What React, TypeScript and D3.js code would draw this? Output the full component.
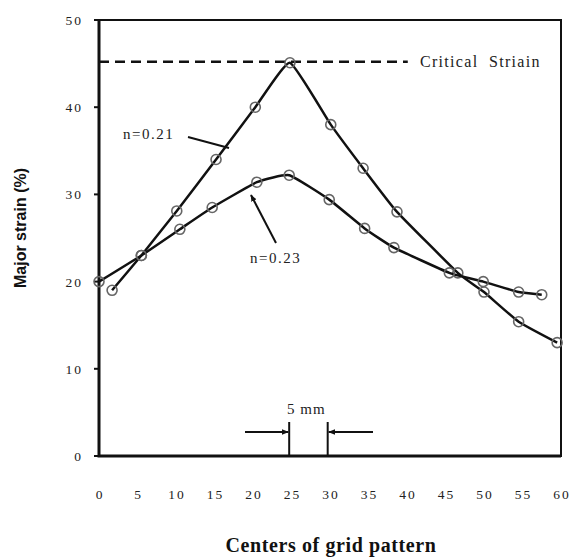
import React, { useEffect, useRef } from "react";
import * as d3 from "d3";

// grid centre positions (mm) and major strain (%) for both n values
const xN021 = [1.7, 5.5, 10.1, 15.2, 20.3, 24.8, 30.1, 34.3, 38.7, 46.6, 50, 54.5, 59.5];
const yN021 = [19.0, 23.0, 28.1, 34.0, 40.0, 45.1, 38.0, 33.0, 28.0, 21.0, 18.8, 15.4, 13.0];
const xN023 = [0, 5.5, 10.5, 14.7, 20.5, 24.7, 29.9, 34.5, 38.3, 45.5, 49.9, 54.5, 57.5];
const yN023 = [20.0, 23.0, 26.0, 28.5, 31.4, 32.2, 29.4, 26.1, 23.9, 21.0, 20.0, 18.8, 18.5];

const xTicks = [0, 5, 10, 15, 20, 25, 30, 35, 40, 45, 50, 55, 60];
const yTicks = [0, 10, 20, 30, 40, 50];
const criticalStrain = 45.2;
const criticalEnd = 40.1;
const gaugeMarks = [24.7, 29.7];

export default function App() {
  const svgRef = useRef<SVGSVGElement>(null);

  useEffect(() => {
    const width = 574;
    const height = 559;
    const svg = d3.select(svgRef.current);
    svg.selectAll("*").remove();
    svg.attr("width", width).attr("height", height);

    const x = d3.scaleLinear().domain([0, 60]).range([99, 561]);
    const y = d3.scaleLinear().domain([0, 50]).range([456, 20]);
    const serif = "'Liberation Serif', 'DejaVu Serif', serif";

    const defs = svg.append("defs");
    defs
      .append("marker")
      .attr("id", "arr")
      .attr("viewBox", "0 0 10 10")
      .attr("refX", 9)
      .attr("refY", 5)
      .attr("markerWidth", 3.5)
      .attr("markerHeight", 3.5)
      .attr("orient", "auto")
      .append("path")
      .attr("d", "M0,1 L10,5 L0,9 Z")
      .attr("fill", "#111");

    // frame
    svg
      .append("rect")
      .attr("x", x(0))
      .attr("y", y(50))
      .attr("width", x(60) - x(0))
      .attr("height", y(0) - y(50))
      .attr("fill", "none")
      .attr("stroke", "#111")
      .attr("stroke-width", 2);
    svg
      .append("path")
      .attr("d", `M${x(0)},${y(50)}V${y(0)}H${x(60)}`)
      .attr("fill", "none")
      .attr("stroke", "#111")
      .attr("stroke-width", 3);

    // y ticks
    const yAxis = svg.append("g");
    yTicks.forEach((t) => {
      yAxis
        .append("line")
        .attr("x1", x(0) - 5)
        .attr("x2", x(0))
        .attr("y1", y(t))
        .attr("y2", y(t))
        .attr("stroke", "#111")
        .attr("stroke-width", 2);
      yAxis
        .append("text")
        .attr("x", 83)
        .attr("y", y(t) + 5)
        .attr("text-anchor", "end")
        .style("font", `13.5px ${serif}`)
        .style("letter-spacing", "2px")
        .attr("fill", "#222")
        .text(t);
    });

    // x tick labels
    xTicks.forEach((t) => {
      svg
        .append("text")
        .attr("x", x(t) + 1)
        .attr("y", 499)
        .attr("text-anchor", "middle")
        .style("font", `13.5px ${serif}`)
        .style("letter-spacing", "2px")
        .attr("fill", "#222")
        .text(t);
    });

    // critical strain
    svg
      .append("line")
      .attr("x1", x(0))
      .attr("x2", x(criticalEnd))
      .attr("y1", y(criticalStrain))
      .attr("y2", y(criticalStrain))
      .attr("stroke", "#111")
      .attr("stroke-width", 2.5)
      .attr("stroke-dasharray", "10,6");
    svg
      .append("text")
      .attr("x", 420)
      .attr("y", y(criticalStrain) + 5)
      .style("font", `16px ${serif}`)
      .style("letter-spacing", "1.3px")
      .style("white-space", "pre")
      .attr("fill", "#222")
      .text("Critical  Striain");

    const line = d3
      .line<[number, number]>()
      .x((d) => x(d[0]))
      .y((d) => y(d[1]))
      .curve(d3.curveCardinal.tension(0.6));

    [
      [xN021, yN021],
      [xN023, yN023],
    ].forEach(([xs, ys]) => {
      const pts = xs.map((v, i) => [v, ys[i]] as [number, number]);
      svg
        .append("path")
        .attr("d", line(pts))
        .attr("fill", "none")
        .attr("stroke", "#111")
        .attr("stroke-width", 2.5);
      svg
        .append("g")
        .selectAll("circle")
        .data(pts)
        .join("circle")
        .attr("cx", (d) => x(d[0]))
        .attr("cy", (d) => y(d[1]))
        .attr("r", 5)
        .attr("fill", "none")
        .attr("stroke", "#666")
        .attr("stroke-width", 1.6);
    });

    // labels for the curves
    svg
      .append("text")
      .attr("x", 123)
      .attr("y", 139)
      .style("font", `15px ${serif}`)
      .style("letter-spacing", "1.5px")
      .attr("fill", "#222")
      .text("n=0.21");
    svg
      .append("line")
      .attr("x1", 188)
      .attr("y1", 137)
      .attr("x2", 229)
      .attr("y2", 148)
      .attr("stroke", "#111")
      .attr("stroke-width", 2);
    svg
      .append("text")
      .attr("x", 250)
      .attr("y", 263)
      .style("font", `15px ${serif}`)
      .style("letter-spacing", "1.5px")
      .attr("fill", "#222")
      .text("n=0.23");
    svg
      .append("line")
      .attr("x1", 276)
      .attr("y1", 243)
      .attr("x2", 251)
      .attr("y2", 195)
      .attr("stroke", "#111")
      .attr("stroke-width", 2)
      .attr("marker-end", "url(#arr)");

    // 5 mm gauge
    gaugeMarks.forEach((g) => {
      svg
        .append("line")
        .attr("x1", x(g))
        .attr("x2", x(g))
        .attr("y1", 422)
        .attr("y2", y(0))
        .attr("stroke", "#111")
        .attr("stroke-width", 2);
    });
    svg
      .append("line")
      .attr("x1", 245)
      .attr("x2", x(gaugeMarks[0]) - 1)
      .attr("y1", 432)
      .attr("y2", 432)
      .attr("stroke", "#111")
      .attr("stroke-width", 2)
      .attr("marker-end", "url(#arr)");
    svg
      .append("line")
      .attr("x1", 373)
      .attr("x2", x(gaugeMarks[1]) + 1)
      .attr("y1", 432)
      .attr("y2", 432)
      .attr("stroke", "#111")
      .attr("stroke-width", 2)
      .attr("marker-end", "url(#arr)");
    svg
      .append("text")
      .attr("x", 287)
      .attr("y", 414)
      .style("font", `15px ${serif}`)
      .style("letter-spacing", "1px")
      .attr("fill", "#222")
      .text("5 mm");

    // axis titles
    svg
      .append("text")
      .attr("transform", `translate(26, 228) rotate(-90)`)
      .attr("text-anchor", "middle")
      .style("font", "bold 16px 'Liberation Sans', Arial, sans-serif")
      .attr("fill", "#111")
      .text("Major strain (%)");
    svg
      .append("text")
      .attr("x", 331)
      .attr("y", 552)
      .attr("text-anchor", "middle")
      .style("font", `bold 20px ${serif}`)
      .style("letter-spacing", "0.6px")
      .attr("fill", "#111")
      .text("Centers of grid pattern");
  }, []);

  return (
    <div style={{ position: "absolute", left: 0, top: 0, background: "#fff" }}>
      <svg ref={svgRef} />
    </div>
  );
}
